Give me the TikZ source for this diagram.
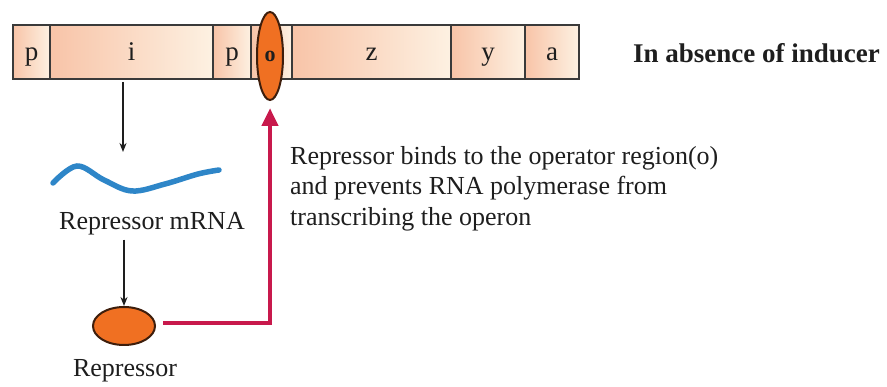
\documentclass[tikz,border=0pt]{standalone}
\usepackage{fontspec}
\setmainfont{Liberation Serif}
\usetikzlibrary{shapes.geometric,arrows.meta}
\definecolor{salm}{HTML}{F8C4A8}
\definecolor{crm}{HTML}{FDF1E2}
\definecolor{barline}{HTML}{3A3A3A}
\definecolor{orng}{HTML}{F07022}
\definecolor{orngline}{HTML}{3E1E0C}
\definecolor{redarr}{HTML}{C8194C}
\definecolor{wave}{HTML}{2E86C8}
\definecolor{txt}{HTML}{1E1E1E}
\tikzset{
  gene/.style={draw=barline, line width=2.2pt, minimum height=54pt, inner sep=0pt,
    anchor=west, left color=salm, right color=crm, text=txt,
    text height=18pt, text depth=0pt,
    font=\fontsize{27}{30}\selectfont},
  lbl/.style={inner sep=0pt, text=txt, font=\fontsize{26}{30.5}\selectfont},
  blackarr/.style={draw=txt, line width=2.4pt, -{Stealth[length=9pt,width=7pt]}},
  redline/.style={draw=redarr, line width=4.5pt, -{Triangle[length=18pt,width=16pt]}}
}
\begin{document}
\begin{tikzpicture}[x=1pt,y=-1pt]
\useasboundingbox (0,0) rectangle (887,387);
% gene bar
\node[gene, minimum width=37pt]  (p1) at (12,52)  {p};
\node[gene, minimum width=163pt] (i)  at (49,52)  {i};
\node[gene, minimum width=38pt]  (p2) at (212,52) {p};
\node[gene, minimum width=41pt]  (o)  at (250,52) {};
\node[gene, minimum width=159pt] (z)  at (291,52) {z};
\node[gene, minimum width=74pt]  (y)  at (450,52) {y};
\node[gene, minimum width=54pt]  (a)  at (524,52) {a};
% operator oval
\node[ellipse, draw=orngline, line width=2pt, fill=orng, minimum width=26pt,
  minimum height=88pt, inner sep=0pt, text=txt, font=\fontsize{22}{24}\selectfont\bfseries]
  (op) at (270,56) {o};
% heading
\node[lbl, anchor=base west, font=\fontsize{27}{30}\selectfont\bfseries] (head) at (633,63) {In absence of inducer};
% mRNA wave
\coordinate (wavetop) at (123,152);
\draw[wave, line width=5.5pt, line cap=round]
  plot[smooth, tension=0.6] coordinates {(53,183) (77,166) (104,180) (132,191) (165,184) (198,174) (219,170)};
\node[lbl, anchor=base] (mrna) at (152,230) {Repressor mRNA};
% repressor
\node[ellipse, draw=orngline, line width=2pt, fill=orng, minimum width=62pt,
  minimum height=38pt, inner sep=0pt] (rep) at (124,326) {};
\node[lbl, anchor=base] (replbl) at (125,377) {Repressor};
% description
\node[lbl, anchor=north west, align=left] (desc) at (290,146)
  {Repressor binds to the operator region(o)\\and prevents RNA polymerase from\\transcribing the operon};
% connectors
\draw[blackarr] (123,82) -- (wavetop);
\draw[blackarr] (mrna.south -| rep.north) ++(0,4) -- (rep.north);
\draw[redline] (rep.east) ++(7,-3) -| ([yshift=-7pt]op.south);
\end{tikzpicture}
\end{document}
